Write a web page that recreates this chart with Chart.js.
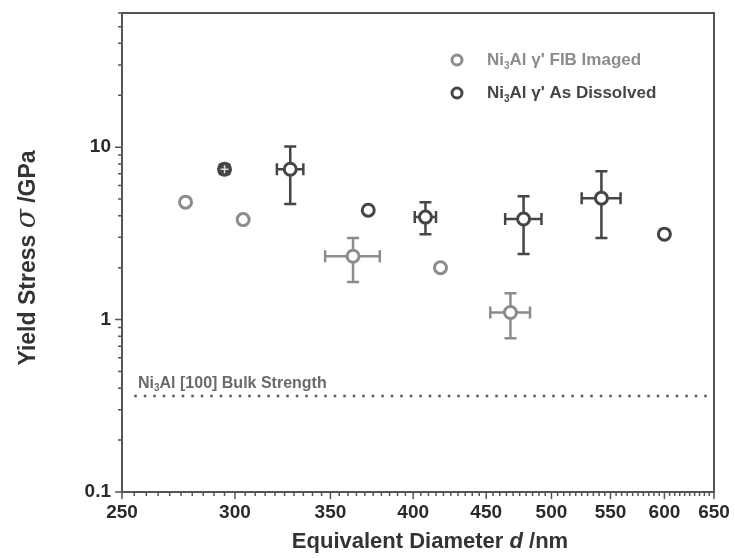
<!DOCTYPE html>
<html>
<head>
<meta charset="utf-8">
<script src="https://cdn.jsdelivr.net/npm/chart.js@4.4.1/dist/chart.umd.min.js"></script>
<style>
  html, body { margin: 0; padding: 0; background: #fff; }
  #wrap { position: relative; width: 735px; height: 558px; }
</style>
</head>
<body>
<div id="wrap"><canvas id="c" width="735" height="558"></canvas></div>
<script>
// Ni3Al gamma' FIB imaged
const fibDiameter = [277, 304, 363, 418, 468];
const fibStress   = [4.8, 3.8, 2.33, 2.0, 1.1];
const fibStressLo = [null, null, 1.65, null, 0.78];
const fibStressHi = [null, null, 2.97, null, 1.42];
const fibDiamErr  = [0, 0, 16, 0, 15];

// Ni3Al gamma' as dissolved
const disDiameter = [295, 328, 372, 408, 478, 542, 600];
const disStress   = [7.45, 7.45, 4.31, 3.93, 3.83, 5.06, 3.13];
const disStressLo = [7.05, 4.68, null, 3.13, 2.40, 2.97, null];
const disStressHi = [7.85, 10.1, null, 4.8, 5.2, 7.26, null];
const disDiamErr  = [2, 7, 0, 7, 14, 17, 0];

const bulkStrength = 0.36;
const bulkRange = [255, 650];

const xMajorTicks = [250, 300, 350, 400, 450, 500, 550, 600, 650];
const yMajorTicks = [0.1, 1, 10];

const GRAY = '#8c8c8c';
const DARK = '#454545';
const FONT = '"Liberation Sans", Arial, sans-serif';

function pts(d, s, lo, hi, de) {
  return d.map((v, i) => ({ x: v, y: s[i], yLo: lo[i], yHi: hi[i], xLo: de[i] ? v - de[i] : null, xHi: de[i] ? v + de[i] : null }));
}

// minor ticks: every 5 nm on x, 2..9 per decade on y
const xTicks = [];
for (let v = 250; v <= 650; v += 5) xTicks.push(v);
const yTicks = [];
[0.1, 1, 10].forEach(dec => { for (let k = 1; k <= 9; k++) { const v = +(dec * k).toPrecision(3); if (v <= 60) yTicks.push(v); } });
yTicks.push(60);

const errorBars = {
  id: 'errorBars',
  beforeDatasetsDraw(chart) {
    const { ctx, scales: { x, y } } = chart;
    ctx.save();
    ctx.lineWidth = 2.5;
    chart.data.datasets.forEach(ds => {
      if (!ds.errors) return;
      ctx.strokeStyle = ds.borderColor;
      ds.data.forEach(p => {
        const px = x.getPixelForValue(p.x), py = y.getPixelForValue(p.y);
        if (p.yLo != null) {
          const t = y.getPixelForValue(p.yHi), b = y.getPixelForValue(p.yLo);
          ctx.beginPath();
          ctx.moveTo(px, t); ctx.lineTo(px, b);
          ctx.moveTo(px - 6, t); ctx.lineTo(px + 6, t);
          ctx.moveTo(px - 6, b); ctx.lineTo(px + 6, b);
          ctx.stroke();
        }
        if (p.xLo != null) {
          const l = x.getPixelForValue(p.xLo), r = x.getPixelForValue(p.xHi);
          ctx.beginPath();
          ctx.moveTo(l, py); ctx.lineTo(r, py);
          ctx.moveTo(l, py - 6); ctx.lineTo(l, py + 6);
          ctx.moveTo(r, py - 6); ctx.lineTo(r, py + 6);
          ctx.stroke();
        }
      });
    });
    ctx.restore();
  },
  afterDatasetsDraw(chart) {
    const { ctx, chartArea: a, scales: { x, y } } = chart;
    ctx.save();
    // small error cross drawn over the filled marker
    const p = chart.data.datasets[1].data[0];
    const px = x.getPixelForValue(p.x), py = y.getPixelForValue(p.y);
    ctx.strokeStyle = '#dcdcdc'; ctx.lineWidth = 1.6;
    ctx.beginPath();
    ctx.moveTo(px - 4, py); ctx.lineTo(px + 4, py);
    ctx.moveTo(px, py - 4); ctx.lineTo(px, py + 4);
    ctx.stroke();

    // frame
    ctx.strokeStyle = '#555'; ctx.lineWidth = 2;
    ctx.strokeRect(a.left, a.top, a.right - a.left, a.bottom - a.top);

    // tick marks (outside)
    ctx.lineWidth = 1.5;
    ctx.beginPath();
    x.ticks.forEach(t => {
      const tx = x.getPixelForValue(t.value);
      const len = xMajorTicks.includes(t.value) ? 7 : 4;
      ctx.moveTo(tx, a.bottom); ctx.lineTo(tx, a.bottom + len);
    });
    y.ticks.forEach(t => {
      const ty = y.getPixelForValue(t.value);
      const len = yMajorTicks.includes(t.value) ? 7 : 4;
      ctx.moveTo(a.left, ty); ctx.lineTo(a.left - len, ty);
    });
    ctx.stroke();

    // legend
    const items = [
      { color: GRAY, text: " FIB Imaged", y: 60 },
      { color: DARK, text: " As Dissolved", y: 93 }
    ];
    items.forEach(it => {
      ctx.beginPath();
      ctx.arc(457, it.y, 5, 0, Math.PI * 2);
      ctx.fillStyle = '#fff'; ctx.fill();
      ctx.strokeStyle = it.color; ctx.lineWidth = 3; ctx.stroke();
      ctx.fillStyle = it.color;
      ctx.textBaseline = 'middle'; ctx.textAlign = 'left';
      let cx = 487;
      ctx.font = 'bold 17px ' + FONT;
      ctx.fillText('Ni', cx, it.y); cx += ctx.measureText('Ni').width;
      ctx.font = 'bold 10px ' + FONT;
      ctx.fillText('3', cx, it.y + 6); cx += ctx.measureText('3').width;
      ctx.font = 'bold 17px ' + FONT;
      ctx.fillText("Al \u03b3'" + it.text, cx, it.y);
    });

    // bulk strength label
    ctx.fillStyle = '#6a6a6a';
    ctx.textBaseline = 'alphabetic';
    let bx = 138; const by = 388;
    ctx.font = 'bold 16px ' + FONT;
    ctx.fillText('Ni', bx, by); bx += ctx.measureText('Ni').width;
    ctx.font = 'bold 10px ' + FONT;
    ctx.fillText('3', bx, by + 3); bx += ctx.measureText('3').width;
    ctx.font = 'bold 16px ' + FONT;
    ctx.fillText('Al [100] Bulk Strength', bx, by);

    // axis titles with italic symbols
    const drawMixed = (parts, cx, cy, rot) => {
      ctx.save();
      ctx.translate(cx, cy); ctx.rotate(rot);
      ctx.fillStyle = '#333'; ctx.textBaseline = 'middle'; ctx.textAlign = 'left';
      let w = 0;
      parts.forEach(q => { ctx.font = q.f; w += ctx.measureText(q.t).width; });
      let qx = -w / 2;
      parts.forEach(q => { ctx.font = q.f; ctx.fillText(q.t, qx, q.dy || 0); qx += ctx.measureText(q.t).width; });
      ctx.restore();
    };
    drawMixed([
      { t: 'Equivalent Diameter ', f: 'bold 22px ' + FONT },
      { t: 'd', f: 'italic bold 22px ' + FONT },
      { t: ' /nm', f: 'bold 22px ' + FONT }
    ], (a.left + a.right) / 2 + 12, 542, 0);
    drawMixed([
      { t: 'Yield Stress ', f: 'bold 23px ' + FONT },
      { t: '\u03c3', f: 'italic 28px "DejaVu Serif", serif', dy: -1 },
      { t: ' /GPa', f: 'bold 23px ' + FONT }
    ], 29, 258, -Math.PI / 2);
    ctx.restore();
  }
};

new Chart(document.getElementById('c'), {
  type: 'scatter',
  data: {
    datasets: [
      {
        label: "Ni3Al FIB Imaged",
        data: pts(fibDiameter, fibStress, fibStressLo, fibStressHi, fibDiamErr),
        errors: true,
        borderColor: GRAY, backgroundColor: '#fff',
        pointRadius: 6, pointBorderWidth: 3, pointHoverRadius: 6
      },
      {
        label: "Ni3Al As Dissolved",
        data: pts(disDiameter, disStress, disStressLo, disStressHi, disDiamErr),
        errors: true,
        borderColor: DARK,
        backgroundColor: disDiameter.map((v, i) => i === 0 ? DARK : '#fff'),
        pointRadius: 6, pointBorderWidth: 3, pointHoverRadius: 6
      },
      {
        type: 'line',
        label: 'Bulk',
        data: bulkRange.map(v => ({ x: v, y: bulkStrength })),
        borderColor: '#555', borderWidth: 2.5, borderDash: [2.5, 7], borderCapStyle: 'butt',
        pointRadius: 0, fill: false
      }
    ]
  },
  options: {
    responsive: false,
    animation: false,
    devicePixelRatio: 1,
    layout: { padding: { top: 13, right: 21, left: 0, bottom: 0 } },
    plugins: { legend: { display: false }, tooltip: { enabled: false } },
    scales: {
      x: {
        type: 'logarithmic', min: 250, max: 650,
        afterBuildTicks: s => { s.ticks = xTicks.map(v => ({ value: v })); },
        afterFit: s => { s.height = 66; s.paddingLeft = 0; s.paddingRight = 0; },
        grid: { display: false, drawTicks: false },
        border: { display: false },
        ticks: {
          autoSkip: false, maxRotation: 0, padding: 9, color: '#2a2a2a',
          font: { family: FONT, weight: 'bold', size: 19 },
          callback: v => xMajorTicks.includes(v) ? String(v) : ''
        }
      },
      y: {
        type: 'logarithmic', min: 0.1, max: 60,
        afterBuildTicks: s => { s.ticks = yTicks.map(v => ({ value: v })); },
        afterFit: s => { s.width = 122; s.paddingTop = 0; s.paddingBottom = 0; },
        grid: { display: false, drawTicks: false },
        border: { display: false },
        ticks: {
          autoSkip: false, padding: 11, color: '#2a2a2a',
          font: { family: FONT, weight: 'bold', size: 19 },
          callback: v => yMajorTicks.includes(v) ? String(v) : ''
        }
      }
    }
  },
  plugins: [errorBars]
});
</script>
</body>
</html>
